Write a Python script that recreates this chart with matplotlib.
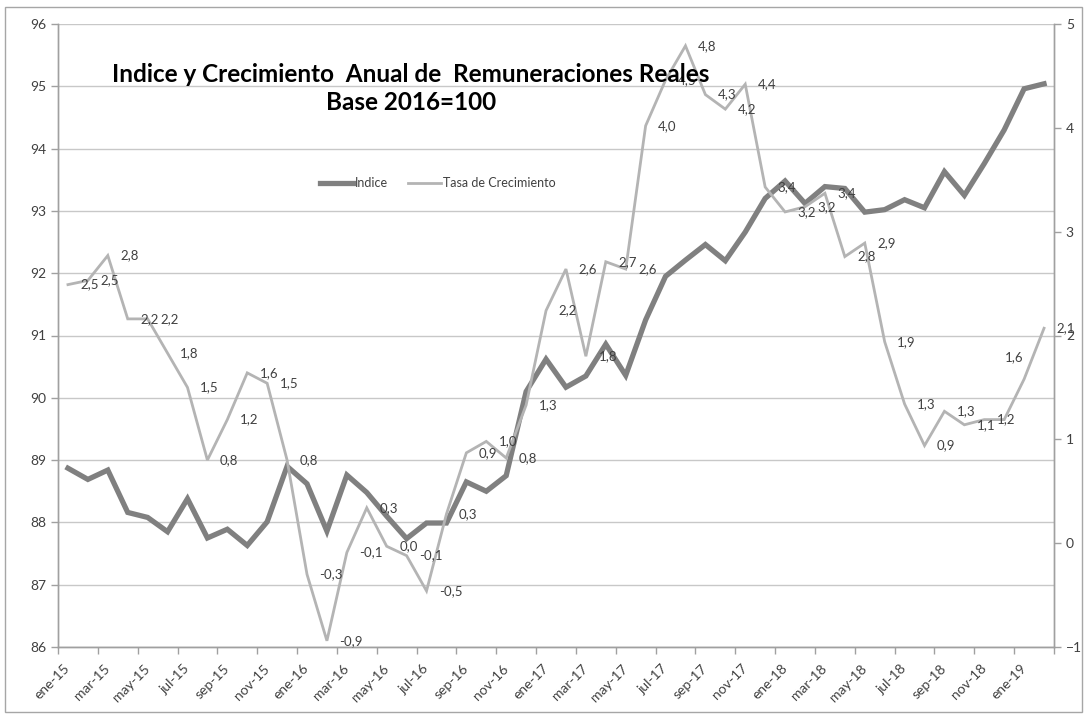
import matplotlib
matplotlib.use("Agg")
import matplotlib.pyplot as plt
from matplotlib.patches import Rectangle
import numpy as np

plt.rcParams['font.family'] = ['Lato', 'DejaVu Sans']

month_abbr = ["ene", "feb", "mar", "abr", "may", "jun", "jul", "ago", "sep", "oct", "nov", "dic"]
categories = [f"{month_abbr[m]}-{y}" for y in range(15, 20) for m in range(12)][:50]

indice = [88.87, 88.69, 88.84, 88.16, 88.08, 87.85, 88.38, 87.75, 87.89, 87.63,
          88.01, 88.90, 88.62, 87.86, 88.76, 88.48, 88.10, 87.74, 87.99, 87.99,
          88.65, 88.50, 88.75, 90.10, 90.62, 90.17, 90.35, 90.86, 90.36, 91.25,
          91.95, 92.21, 92.46, 92.20, 92.66, 93.20, 93.48, 93.12, 93.39, 93.36,
          92.98, 93.02, 93.18, 93.05, 93.63, 93.25, 93.76, 94.30, 94.96, 95.04]

tasa = [2.49, 2.53, 2.77, 2.16, 2.16, 1.83, 1.50, 0.80, 1.19, 1.64,
        1.54, 0.80, -0.30, -0.94, -0.09, 0.34, -0.03, -0.12, -0.46, 0.28,
        0.87, 0.98, 0.82, 1.33, 2.24, 2.64, 1.80, 2.71, 2.64, 4.02,
        4.46, 4.79, 4.32, 4.18, 4.42, 3.43, 3.19, 3.24, 3.37, 2.76,
        2.89, 1.94, 1.34, 0.94, 1.27, 1.14, 1.19, 1.19, 1.58, 2.07]

left_ticks = list(range(86, 97))
right_ticks = list(range(-1, 6))

W, H = 1086, 719
fig = plt.figure(figsize=(W / 100, H / 100), dpi=100)
fig.patch.set_facecolor('white')

# outer chart border
fig.patches.append(Rectangle((5 / W, 1 - 712 / H), (1082 - 5) / W, (712 - 7) / H,
                             transform=fig.transFigure, fill=False,
                             edgecolor='#a6a6a6', linewidth=1.0))

L, R, T, B = 58, 1054, 24, 647
ax = fig.add_axes([L / W, 1 - B / H, (R - L) / W, (B - T) / H])
ax2 = ax.twinx()

n = len(categories)
x = np.arange(n)

grid_c = '#c8c8c8'
axis_c = '#a0a0a0'
txt_c = '#404040'

ax.set_xlim(-0.5, n - 0.5)
ax.set_ylim(86, 96)
ax2.set_ylim(-1, 5)
ax.set_yticks(left_ticks)
ax2.set_yticks(right_ticks)
ax.yaxis.grid(True, color=grid_c, linewidth=1.0)
ax.set_axisbelow(True)

for a in (ax, ax2):
    a.spines['top'].set_visible(False)
    for s in ('left', 'right', 'bottom'):
        a.spines[s].set_color(axis_c)
        a.spines[s].set_linewidth(1.0)
    a.tick_params(axis='y', colors=axis_c, labelcolor=txt_c, labelsize=10, length=5, width=1)

# x ticks: labels at category centres (even categories), tick marks at boundaries
ax.set_xticks(x[::2])
ax.set_xticklabels(categories[::2], rotation=45, ha='right', va='center',
                   rotation_mode='anchor', fontsize=10, color=txt_c)
ax.tick_params(axis='x', which='major', length=0, pad=14)
ax.set_xticks(np.arange(-0.5, n, 2), minor=True)
ax.tick_params(axis='x', which='minor', length=5, width=1, color=axis_c)
ax2.tick_params(axis='x', length=0)

ln1, = ax.plot(x, indice, color='#808080', linewidth=3.8, solid_joinstyle='miter',
               label='Indice', zorder=3)
ln2, = ax2.plot(x, tasa, color='#b4b4b4', linewidth=2.0, solid_joinstyle='miter',
                label='Tasa de Crecimiento', zorder=2)


def fmt(v):
    s = f"{v:.1f}".replace('.', ',')
    return '0,0' if s == '-0,0' else s


for i, v in enumerate(tasa):
    if i == 47:
        continue
    if i == 48:
        off = (-14, 16)
    else:
        off = (9, 0)
    ax2.annotate(fmt(v), (x[i], v), xytext=off, textcoords='offset points',
                 ha='left', va='center', fontsize=9.5, color=txt_c, zorder=4)

leg = fig.legend(handles=[ln1, ln2], loc='center', bbox_to_anchor=(438 / W, 1 - 183 / H),
                 ncol=2, frameon=False, fontsize=9, handlelength=2.6, handletextpad=0.2,
                 columnspacing=1.6)
for t in leg.get_texts():
    t.set_color(txt_c)

fig.text(411 / W, 1 - 75 / H, "Indice y Crecimiento  Anual de  Remuneraciones Reales",
         ha='center', va='center', fontsize=17.5, fontweight='bold', color='black', zorder=10)
fig.text(411 / W, 1 - 103 / H, "Base 2016=100",
         ha='center', va='center', fontsize=17.5, fontweight='bold', color='black', zorder=10)

fig.savefig('out.png', dpi=100)
